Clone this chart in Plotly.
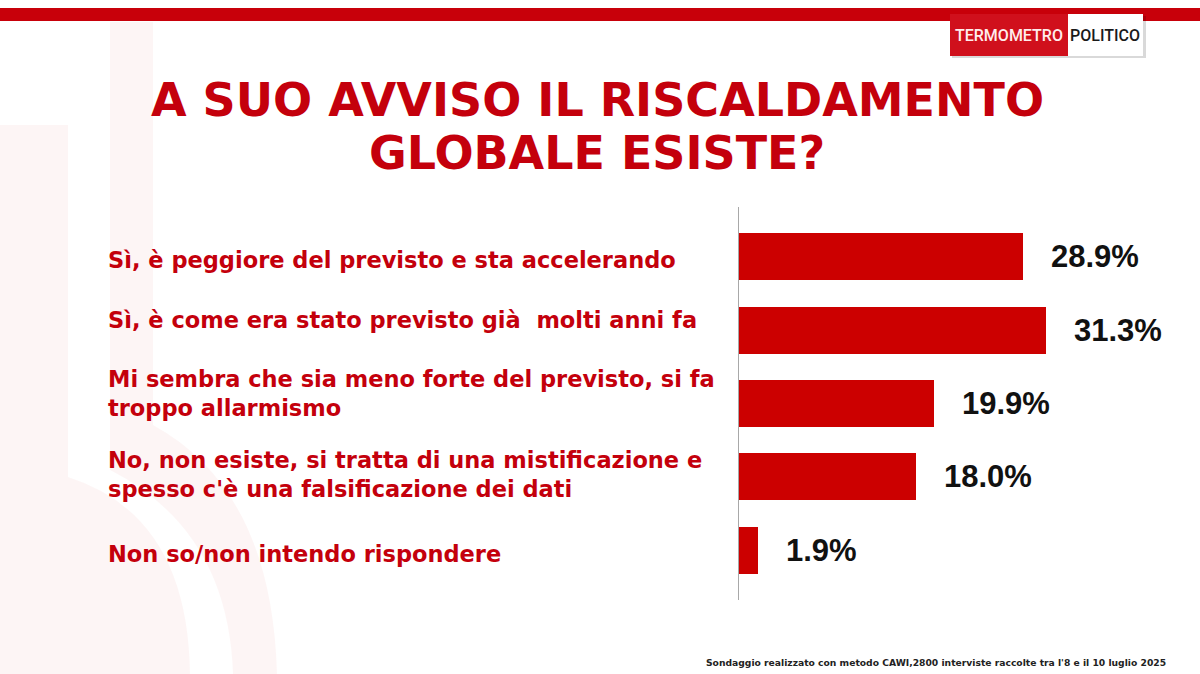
import plotly.graph_objects as go

# ---- data ----
categories = [
    "Sì, è peggiore del previsto e sta accelerando",
    "Sì, è come era stato previsto già  molti anni fa",
    "Mi sembra che sia meno forte del previsto, si fa<br>troppo allarmismo",
    "No, non esiste, si tratta di una mistificazione e<br>spesso c'è una falsificazione dei dati",
    "Non so/non intendo rispondere",
]
values = [28.9, 31.3, 19.9, 18.0, 1.9]
value_labels = ["28.9%", "31.3%", "19.9%", "18.0%", "1.9%"]

title_lines = ["A SUO AVVISO IL RISCALDAMENTO", "GLOBALE ESISTE?"]
footer = "Sondaggio realizzato con metodo CAWI,2800 interviste raccolte tra l'8 e il 10 luglio 2025"

W, H = 1200, 674
RED = "#cc0000"
TXT_RED = "#c4000c"


def px(x):
    return x / W


def py(y):
    return 1 - y / H


ids = list(range(len(categories)))

fig = go.Figure(
    go.Bar(
        x=values,
        y=ids,
        orientation="h",
        width=0.64,
        marker=dict(color=RED, line=dict(width=0)),
        hoverinfo="skip",
    )
)

shapes = []
# faint watermark "b"
wm = "rgba(204,0,0,0.04)"
inner = (f"M {px(0)},{py(125)} L {px(68)},{py(125)} L {px(68)},{py(477)} "
         f"Q {px(188)},{py(515)} {px(190)},{py(674)} L {px(0)},{py(674)} Z")
outer = (f"M {px(110)},{py(22)} L {px(153)},{py(22)} L {px(153)},{py(425)} "
         f"Q {px(272)},{py(490)} {px(277)},{py(674)} L {px(233)},{py(674)} "
         f"Q {px(228)},{py(530)} {px(110)},{py(470)} Z")
for p in (inner, outer):
    shapes.append(dict(type="path", path=p, xref="paper", yref="paper",
                       fillcolor=wm, line=dict(width=0), layer="below"))

# top red band
shapes.append(dict(type="rect", xref="paper", yref="paper",
                   x0=0, x1=1, y0=py(21), y1=py(8),
                   fillcolor="#c8000a", line=dict(width=0)))
# logo
shapes.append(dict(type="rect", xref="paper", yref="paper",
                   x0=px(952), x1=px(1146), y0=py(58), y1=py(16),
                   fillcolor="rgba(0,0,0,0.15)", line=dict(width=0)))
shapes.append(dict(type="rect", xref="paper", yref="paper",
                   x0=px(950), x1=px(1068), y0=py(56), y1=py(14),
                   fillcolor="#d0101c", line=dict(width=0)))
shapes.append(dict(type="rect", xref="paper", yref="paper",
                   x0=px(1068), x1=px(1143), y0=py(56), y1=py(14),
                   fillcolor="#ffffff", line=dict(width=0)))

annotations = []
# logo text
annotations.append(dict(text="TERMOMETRO", xref="paper", yref="paper",
                        x=px(1009), y=py(36), xanchor="center", yanchor="middle",
                        showarrow=False,
                        font=dict(family="Roboto, sans-serif",
                                  size=16, color="#ffecec", weight=500)))
annotations.append(dict(text="POLITICO", xref="paper", yref="paper",
                        x=px(1105), y=py(36), xanchor="center", yanchor="middle",
                        showarrow=False,
                        font=dict(family="Roboto, sans-serif",
                                  size=16, color="#1a1a1a", weight=500)))

# title
for line, yc in zip(title_lines, (100, 153)):
    annotations.append(dict(text=line, xref="paper", yref="paper",
                            x=px(597), y=py(yc), xanchor="center", yanchor="middle",
                            showarrow=False,
                            font=dict(family="DejaVu Sans, sans-serif",
                                      size=46, color=TXT_RED, weight=700)))

# category labels
label_nudge = [3, -10, -10, -2, 4]
for i, (cat, nd) in enumerate(zip(categories, label_nudge)):
    annotations.append(dict(text=cat, xref="paper", yref="y",
                            x=px(106), y=i, yshift=-nd, xanchor="left", yanchor="middle",
                            align="left", showarrow=False,
                            font=dict(family="DejaVu Sans, sans-serif",
                                      size=22.5, color=TXT_RED, weight=700)))

# value labels
for i, (v, lab) in enumerate(zip(values, value_labels)):
    annotations.append(dict(text=lab, xref="x", yref="y", x=v, y=i,
                            xanchor="left", yanchor="middle", xshift=26,
                            showarrow=False,
                            font=dict(family="Liberation Sans, Arial, sans-serif",
                                      size=31, color="#111111", weight=700)))

# footer
annotations.append(dict(text=footer, xref="paper", yref="paper",
                        x=px(1168), y=py(662), xanchor="right", yanchor="middle",
                        showarrow=False,
                        font=dict(family="DejaVu Sans, sans-serif",
                                  size=9.2, color="#222222", weight=700)))

x_max = 40
fig.update_layout(
    width=W, height=H,
    margin=dict(l=0, r=0, t=0, b=0),
    paper_bgcolor="white", plot_bgcolor="rgba(0,0,0,0)",
    showlegend=False,
    xaxis=dict(domain=[px(739), px(739 + 9.81 * x_max)], range=[0, x_max],
               showgrid=False, zeroline=False, showline=False,
               showticklabels=False, ticks="", fixedrange=True),
    yaxis=dict(domain=[py(600), py(207)], range=[len(ids) - 0.325, -0.675],
               showgrid=False, zeroline=False, showline=True,
               linecolor="#a8a8a8", linewidth=1,
               showticklabels=False, ticks="", fixedrange=True),
    shapes=shapes,
    annotations=annotations,
    bargap=0,
)

fig.write_html("out.html")
